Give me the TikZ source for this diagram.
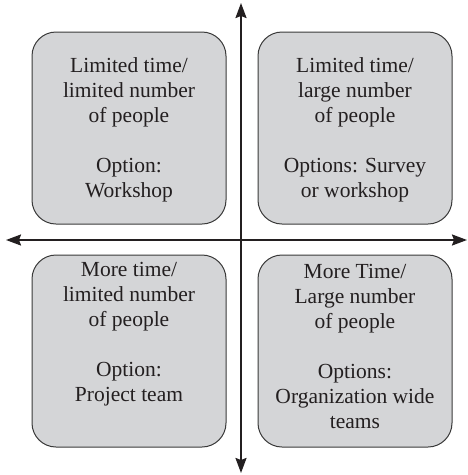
\documentclass[tikz,border=0pt]{standalone}
\usepackage{fontspec}
\setmainfont{Liberation Serif}
\usetikzlibrary{arrows.meta}
\definecolor{boxfill}{HTML}{D4D5D7}
\definecolor{boxline}{HTML}{3A3A3A}
\definecolor{ink}{HTML}{231F20}
\tikzset{
  quad/.style={draw=boxline, line width=1pt, fill=boxfill, rounded corners=24pt,
    minimum width=194pt, minimum height=192pt, inner sep=0pt},
  qtext/.style={align=center, text=ink, inner sep=0pt,
    font=\fontsize{21.5pt}{25pt}\selectfont},
  axis/.style={draw=ink, line width=2pt, -{Stealth[length=15pt,width=11pt,inset=2pt]}}
}
\begin{document}
\begin{tikzpicture}[x=1pt,y=-1pt]
\useasboundingbox (0,0) rectangle (467,475);
\coordinate (C) at (241,240);
\coordinate (L) at (6,240);
\coordinate (R) at (467,240);
\coordinate (T) at (241,3);
\coordinate (B) at (241,473);
\draw[axis] (C) -- (L);
\draw[axis] (C) -- (R);
\draw[axis] (C) -- (T);
\draw[axis] (C) -- (B);
\node[quad] (q1) at (129,128) {};
\node[quad] (q2) at (355,128) {};
\node[quad] (q3) at (129,351) {};
\node[quad] (q4) at (355,351) {};
\node[qtext] (t1) at (129,130) {Limited time/\\limited number\\of people\\[25pt]Option:\\Workshop};
\node[qtext] (t2) at (355,130) {Limited time/\\large number\\of people\\[25pt]Options: Survey\\or workshop};
\node[qtext] (t3) at (129,334) {More time/\\limited number\\of people\\[25pt]Option:\\Project team};
\node[qtext] (t4) at (355,346.5) {More Time/\\Large number\\of people\\[25pt]Options:\\Organization wide\\teams};
\end{tikzpicture}
\end{document}
